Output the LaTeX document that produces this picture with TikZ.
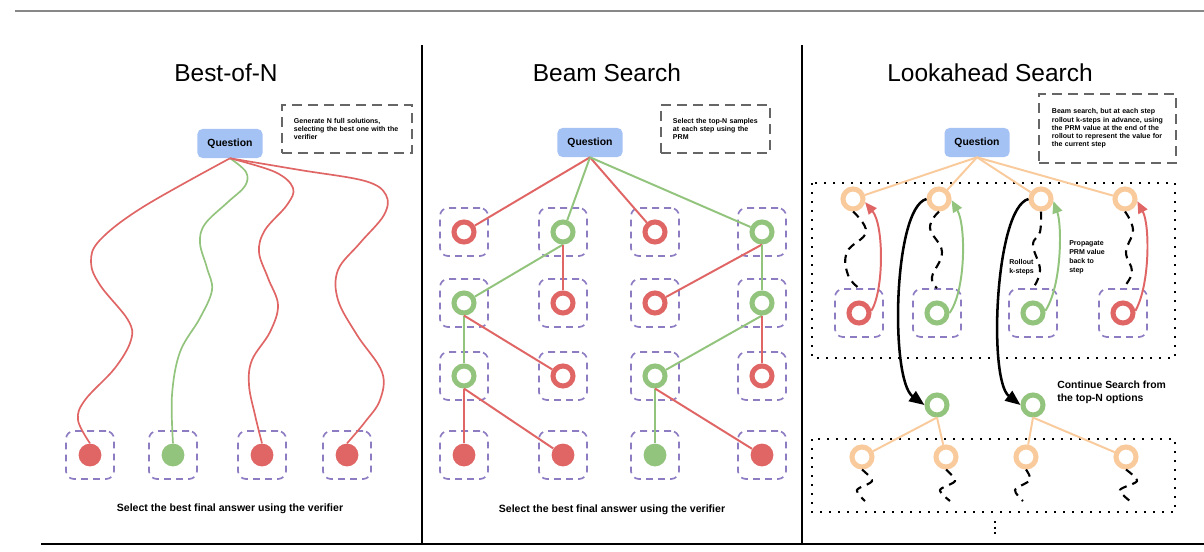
\documentclass[tikz,border=0pt]{standalone}
\usepackage{fontspec}
\setmainfont{Liberation Sans}
\usetikzlibrary{arrows.meta, calc}

\definecolor{qblue}{HTML}{A4C2F4}
\definecolor{bred}{HTML}{E06666}
\definecolor{bgreen}{HTML}{93C47D}
\definecolor{borange}{HTML}{F9CB9C}
\definecolor{bpurple}{HTML}{8E7CC3}
\definecolor{notegray}{HTML}{666666}

\begin{document}
\begin{tikzpicture}[
  x = 0.025cm, y = -0.025cm,
  heading/.style={font=\fontsize{17.4}{20}\selectfont, anchor=base, inner sep=0},
  footer/.style={font=\bfseries\fontsize{7.5}{9}\selectfont, anchor=base, inner sep=0},
  qbox/.style={fill=qblue, rounded corners=0.125cm, minimum width=1.625cm, minimum height=0.725cm, inner sep=0, font=\bfseries\fontsize{7.4}{9}\selectfont},
  notebox/.style={draw=notegray, line width=1.6pt, dash pattern=on 0.25cm off 0.15cm, align=left, inner xsep=0.3cm, inner ysep=0, font=\bfseries\fontsize{5}{5.9}\selectfont},
  slotbox/.style={draw=bpurple, line width=1.2pt, dash pattern=on 0.17cm off 0.13cm, rounded corners=0.2cm, minimum size=1.2cm, inner sep=0},
  stepring/.style={circle, draw=#1, line width=3.6pt, minimum size=0.5cm, inner sep=0},
  leafdot/.style={circle, fill=#1, minimum size=0.57cm, inner sep=0},
  beamlink/.style={line width=1.4pt, draw=#1},
  wiggle/.style={line width=1.2pt, draw=#1},
  rollout/.style={black, line width=1.5pt, dash pattern=on 0.2cm off 0.15cm},
  propagate/.style={line width=1.4pt, draw=#1, -{Triangle[length=0.3cm, width=0.25cm]}},
  jump/.style={black, line width=1.8pt, -{Triangle[length=0.38cm, width=0.3cm]}},
  dotbox/.style={line width=1.4pt, dash pattern=on 1.4pt off 5pt},
  remark/.style={font=\bfseries\fontsize{5}{6.3}\selectfont, align=left, inner sep=0, anchor=west}
]
%general params
\def\yA{232} %beam rows
\def\yB{303}
\def\yC{376}
\def\yD{455}
\useasboundingbox (0,0) rectangle (1204,552);

%frame
\draw[black!47, line width=1.9pt] (15,11) -- (1204,11);
\draw[line width=2pt] (41,544) -- (1204,544);
\draw[line width=1.5pt] (422,45) -- (422,544);
\draw[line width=1.5pt] (802,45) -- (802,544);

%Best-of-N
\node[heading] (t1) at (226,81.7) {Best-of-N};
\node[qbox] (q1) at (230,143.5) {Question};
\node[notebox, minimum width=3.25cm, text width=2.65cm, minimum height=1.2cm] (n1) at (347,129)
  {Generate N full solutions,\\ selecting the best one with the\\ verifier};
\foreach \n/\x/\c in {1/90/bred,2/173/bgreen,3/262/bred,4/347/bred}{
  \node[slotbox] (b\n) at (\x,455) {};
  \node[leafdot=\c] (d\n) at (\x,455) {};
}
\draw[wiggle=bred] plot[smooth, tension=0.6] coordinates {(q1.south) (143,207) (100,240) (91,262) (100,285) (128,320) (131,340) (115,368) (85,400) (78,420) (d1.north)};
\draw[wiggle=bgreen] plot[smooth, tension=0.6] coordinates {(q1.south) (246,172) (245,186) (228,202) (205,224) (200,243) (207,268) (212,290) (200,318) (180,352) (172,395) (d2.north)};
\draw[wiggle=bred] plot[smooth, tension=0.6] coordinates {(q1.south) (275,172) (293,188) (287,205) (265,230) (259,252) (268,278) (278,305) (270,332) (252,360) (249,385) (255,415) (d3.north)};
\draw[wiggle=bred] plot[smooth, tension=0.6] coordinates {(q1.south) (300,170) (365,181) (386,195) (384,215) (360,243) (338,270) (338,300) (357,335) (382,372) (380,400) (365,422) (d4.north)};
\node[footer] (f1) at (230,511.7) {Select the best final answer using the verifier};

%Beam Search
\node[heading] (t2) at (607,81.7) {Beam Search};
\node[qbox] (q2) at (590,142.5) {Question};
\node[notebox, minimum width=2.725cm, text width=2.125cm, minimum height=1.2cm] (n2) at (715.5,129)
  {Select the top-N samples\\ at each step using the\\ PRM};
\foreach \n/\x/\c in {1/464/bred,2/563/bgreen,3/655/bred,4/762/bgreen}{
  \node[slotbox] (sA\n) at (\x,\yA) {};
  \node[stepring=\c] (rA\n) at (\x,\yA) {};
}
\foreach \n/\x/\c in {1/464/bgreen,2/563/bred,3/655/bred,4/762/bgreen}{
  \node[slotbox] (sB\n) at (\x,\yB) {};
  \node[stepring=\c] (rB\n) at (\x,\yB) {};
}
\foreach \n/\x/\c in {1/464/bgreen,2/563/bred,3/655/bgreen,4/762/bred}{
  \node[slotbox] (sC\n) at (\x,\yC) {};
  \node[stepring=\c] (rC\n) at (\x,\yC) {};
}
\foreach \n/\x/\c in {1/464/bred,2/563/bred,3/655/bgreen,4/762/bred}{
  \node[slotbox] (sD\n) at (\x,\yD) {};
  \node[leafdot=\c] (rD\n) at (\x,\yD) {};
}
\draw[beamlink=bred]   (q2.south) -- (rA1);
\draw[beamlink=bgreen] (q2.south) -- (rA2);
\draw[beamlink=bred]   (q2.south) -- (rA3);
\draw[beamlink=bgreen] (q2.south) -- (rA4);
\draw[beamlink=bgreen] (rA2.south) -- (rB1);
\draw[beamlink=bred]   (rA2.south) -- (rB2);
\draw[beamlink=bred]   (rA4.south) -- (rB3);
\draw[beamlink=bgreen] (rA4.south) -- (rB4);
\draw[beamlink=bgreen] (rB1.south) -- (rC1);
\draw[beamlink=bred]   (rB1.south) -- (rC2);
\draw[beamlink=bgreen] (rB4.south) -- (rC3);
\draw[beamlink=bred]   (rB4.south) -- (rC4);
\draw[beamlink=bred]   (rC1.south) -- (rD1);
\draw[beamlink=bred]   (rC1.south) -- (rD2);
\draw[beamlink=bgreen] (rC3.south) -- (rD3);
\draw[beamlink=bred]   (rC3.south) -- (rD4);
\node[footer] (f2) at (612,512) {Select the best final answer using the verifier};

%Lookahead Search
\node[heading] (t3) at (990,81.7) {Lookahead Search};
\node[qbox] (q3) at (977,142.5) {Question};
\node[notebox, minimum width=3.425cm, text width=2.775cm, minimum height=1.725cm, inner xsep=0.325cm] (n3) at (1107.5,128.5)
  {Beam search, but at each step\\ rollout k-steps in advance, using\\ the PRM value at the end of the\\ rollout to represent the value for\\ the current step};
\draw[dotbox] (812,183) rectangle (1175,358);
\draw[dotbox] (812,439) rectangle (1175,512);

\foreach \n/\x in {1/853,2/939,3/1041,4/1125}{
  \node[stepring=borange] (o\n) at (\x,199) {};
  \draw[beamlink=borange] (q3.south) -- (o\n);
}
\foreach \n/\x/\c in {1/859/bred,2/937/bgreen,3/1033/bgreen,4/1123/bred}{
  \node[slotbox] (s\n) at (\x,313) {};
  \node[stepring=\c] (p\n) at (\x,313) {};
}
%rollouts
\draw[rollout] plot[smooth, tension=0.7] coordinates {(o1.south) (866,232) (847,252) (848,275) (s1.north)};
\draw[rollout] plot[smooth, tension=0.7] coordinates {(o2.south) (930,228) (942,252) (932,277) (s2.north)};
\draw[rollout] plot[smooth, tension=0.7] coordinates {(o3.south) (1040,232) (1033,245) (1040,270) (s3.north)};
\draw[rollout] plot[smooth, tension=0.7] coordinates {(o4.south) (1133,230) (1126,252) (1132,272) (s4.north)};
%values back up
\draw[propagate=bred]   (p1.10) .. controls (884,290) and (884,225) .. (o1.-15);
\draw[propagate=bgreen] (p2.0)  .. controls (966,290) and (966,225) .. (o2.-5);
\draw[propagate=bgreen] (p3.10) .. controls (1062,285) and (1062,225) .. (o3.-10);
\draw[propagate=bred]   (p4.10) .. controls (1150,285) and (1150,225) .. (o4.-10);
\node[remark] (rl) at (1009,267) {Rollout\\k-steps};
\node[remark] (pl) at (1069,257.5) {Propagate\\PRM value\\back to\\step};

%next level
\node[stepring=bgreen] (g1) at (937,405) {};
\node[stepring=bgreen] (g2) at (1033,405) {};
\draw[jump] (o2.west) .. controls (893,208) and (890,380) .. (g1.west);
\draw[jump] (o3.west) .. controls (995,208) and (988,380) .. (g2.west);
\node[remark, font=\bfseries\fontsize{7.4}{9.3}\selectfont] (cl) at (1057,392) {Continue Search from\\the top-N options};

\foreach \n/\x in {1/862,2/946,3/1026,4/1126}{
  \node[stepring=borange] (l\n) at (\x,457) {};
}
\draw[beamlink=borange] (g1.south) -- (l1);
\draw[beamlink=borange] (g1.south) -- (l2);
\draw[beamlink=borange] (g2.south) -- (l3);
\draw[beamlink=borange] (g2.south) -- (l4);
\draw[rollout] plot[smooth] coordinates {(l1.south) (872,481) (857,490) (865,501)};
\draw[rollout] plot[smooth] coordinates {(l2.south) (955,481) (940,490) (950,501)};
\draw[rollout] plot[smooth] coordinates {(l3.south) (1030,480) (1015,490) (1023,501)};
\draw[rollout] plot[smooth] coordinates {(l4.south) (1137,481) (1120,490) (1130,501)};
%more levels
\draw[line width=1.4pt, dash pattern=on 1.4pt off 2.6pt] (995,521) -- (995,535);

\end{tikzpicture}
\end{document}
